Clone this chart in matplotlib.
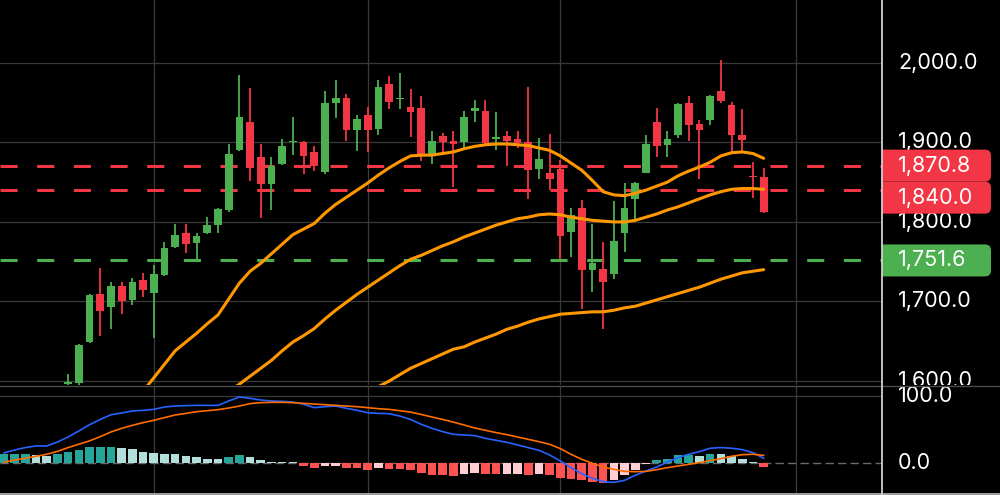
import numpy as np
import matplotlib.pyplot as plt
from matplotlib.lines import Line2D
from matplotlib.patches import FancyBboxPatch
from matplotlib.transforms import IdentityTransform

plt.rcParams['font.family'] = ['Inter', 'DejaVu Sans']

# bars are numbered 0..71; candles before bar 6 sit below the visible price range
candle_start = 6
opens = [1596, 1597, 1649, 1709, 1693, 1719, 1702, 1727, 1711, 1733, 1768, 1786, 1773, 1786, 1796, 1815,
         1890, 1925, 1881, 1848, 1873, 1900, 1900, 1888, 1863, 1950, 1956, 1915, 1935, 1917, 1973, 1954,
         1944, 1943, 1886, 1908, 1902, 1901, 1939, 1939, 1904, 1908, 1904, 1901, 1866, 1862, 1866, 1787,
         1817, 1740, 1741, 1734, 1786, 1829, 1862, 1925, 1897, 1909, 1950, 1923, 1928, 1965, 1947, 1909,
         1857, 1857]
highs = [1609, 1646, 1709, 1742, 1724, 1724, 1730, 1736, 1746, 1775, 1798, 1797, 1786, 1806, 1817, 1898,
         1985, 1968, 1898, 1882, 1904, 1932, 1902, 1895, 1965, 1979, 1961, 1934, 1944, 1979, 1983, 1987,
         1967, 1958, 1914, 1912, 1914, 1939, 1953, 1953, 1938, 1914, 1914, 1970, 1905, 1911, 1878, 1817,
         1827, 1798, 1775, 1826, 1849, 1850, 1909, 1943, 1914, 1949, 1958, 1928, 1960, 2003, 1951, 1942,
         1875, 1868]
lows = [1594, 1595, 1648, 1657, 1665, 1684, 1696, 1705, 1654, 1732, 1767, 1761, 1752, 1785, 1786, 1812,
        1889, 1852, 1805, 1815, 1871, 1884, 1860, 1864, 1860, 1931, 1902, 1889, 1888, 1909, 1942, 1942,
        1907, 1877, 1873, 1888, 1844, 1891, 1925, 1898, 1891, 1870, 1893, 1829, 1854, 1840, 1754, 1756,
        1691, 1712, 1665, 1728, 1762, 1802, 1861, 1882, 1882, 1905, 1902, 1854, 1922, 1950, 1888, 1888,
        1830, 1811]
closes = [1599, 1645, 1708, 1688, 1719, 1700, 1724, 1714, 1735, 1767, 1784, 1772, 1782, 1796, 1816, 1886,
          1932, 1868, 1848, 1870, 1896, 1902, 1883, 1870, 1950, 1956, 1916, 1930, 1915, 1969, 1951, 1956,
          1938, 1886, 1902, 1901, 1898, 1932, 1943, 1899, 1907, 1902, 1899, 1865, 1879, 1854, 1782, 1809,
          1740, 1748, 1725, 1776, 1817, 1849, 1898, 1896, 1904, 1948, 1922, 1916, 1958, 1952, 1909, 1903,
          1856, 1813]

ma_fast_start = 13
ma_fast = [1587, 1604, 1621, 1638, 1649, 1660, 1672, 1683, 1703, 1723, 1738, 1748, 1760, 1772, 1784,
           1791, 1798, 1811, 1822, 1831, 1840, 1849, 1859, 1868, 1876, 1883, 1884, 1884, 1886, 1888,
           1892, 1895, 1897, 1898, 1898, 1897, 1896, 1893, 1890, 1883, 1874, 1865, 1852, 1838, 1834,
           1833, 1836, 1840, 1845, 1850, 1858, 1864, 1869, 1875, 1883, 1887, 1888, 1886, 1880]
ma_mid_start = 21
ma_mid = [1587, 1596, 1606, 1616, 1626, 1638, 1649, 1657, 1666, 1678, 1689, 1699, 1709, 1718, 1727,
          1736, 1745, 1753, 1758, 1764, 1770, 1775, 1781, 1786, 1791, 1796, 1800, 1804, 1806, 1809,
          1810, 1809, 1806, 1804, 1802, 1801, 1800, 1800, 1802, 1806, 1810, 1815, 1819, 1824, 1829,
          1834, 1838, 1841, 1842, 1842, 1841]
ma_slow_start = 34
ma_slow = [1585, 1593, 1600, 1608, 1616, 1622, 1628, 1634, 1640, 1643, 1649, 1654, 1659, 1665, 1669,
           1674, 1678, 1681, 1684, 1685, 1686, 1687, 1687, 1689, 1692, 1694, 1698, 1702, 1706, 1710,
           1714, 1718, 1723, 1728, 1732, 1736, 1738, 1740]

level_values = [1870.8, 1840.0, 1751.6]
level_up = [False, False, True]

price_ticks = [1600, 1700, 1800, 1900, 2000]
month_starts = [14, 34, 52, 74]

macd_hist = [13.4, 13.6, 13.8, 12.4, 11, 13.4, 16, 19.4, 23.5, 24, 24.4, 22, 20.4, 17, 14.4, 13.4,
             13, 11, 8.5, 6.5, 6, 8.5, 12, 8.5, 5, 1.5, 1.2, 1.0, -5, -8, -5, -4, -7, -7.5, -11, -7.5,
             -9, -9.5, -11, -15, -17.5, -18.5, -19, -16, -15.5, -16.5, -17, -16.5, -16, -17.5, -17,
             -17.5, -22.5, -24, -26, -28, -29.5, -25, -17.5, -10, -0.8, 4, 6.5, 11.5, 12.5, 11, 14,
             13.5, 10, 6.5, 1, -6.5]
macd_line = [15, 19.4, 23, 25.4, 25.4, 31.3, 38.8, 47.8, 57.2, 65, 72, 74.6, 77.6, 78.6, 80, 83.6, 85,
             85.6, 86, 86, 86, 92.5, 98.5, 96.5, 94, 92.5, 92, 91, 87.6, 82.6, 84, 85, 81.6, 78.6, 75,
             74, 73.6, 70, 65, 57.7, 51.7, 46.8, 42.8, 41.8, 40.8, 36.8, 33.8, 30.8, 26.9, 22.9, 18.9,
             11.9, 3, -7, -16, -22.9, -27.9, -28.9, -25.9, -18.4, -12, -6, 1.5, 8, 13, 17, 22, 23, 22,
             20, 15.4, 7]
signal_line = [1, 4.5, 7, 10, 13, 17.4, 23, 28, 33, 39.3, 46.3, 51.7, 56.2, 60.2, 63.7, 67.7, 71.6, 74,
               76.6, 78, 79.6, 82, 85, 88.6, 90, 90.5, 90.5, 90, 89, 88, 87, 86, 85, 84, 82.6, 81, 80,
               78, 76, 72.4, 68.6, 65, 61, 56.7, 52.2, 48.8, 45.3, 42.3, 38.8, 35.3, 31.8, 27.9, 21.4,
               12.9, 5.5, -0.5, -6, -9.5, -12.5, -13, -12.5, -10, -7, -4.5, -2, 0.5, 3.5, 6.5, 10, 12.4,
               13, 11.4]
macd_ticks = [0, 100]

GREEN = '#4CAF50'
RED = '#F23645'
ORANGE = '#FF9800'
GRID = '#3a3a3a'
FS = 15.5

fig = plt.figure(figsize=(10, 4.95), dpi=100, facecolor='black')
H = 495.0
main_box = [0, 1 - 385 / H, 0.882, 385 / H]
macd_box = [0, 1 - 493 / H, 0.882, 107 / H]
ax = fig.add_axes(main_box)
axs = fig.add_axes([0.882, main_box[1], 0.118, main_box[3]])
axm = fig.add_axes(macd_box)
axms = fig.add_axes([0.882, macd_box[1], 0.118, macd_box[3]])

for a in (ax, axs, axm, axms):
    a.set_facecolor('black')
    a.set_xticks([])
    a.set_yticks([])
    for s in a.spines.values():
        s.set_visible(False)

xlim = (-0.37, 82.06)
ax.set_xlim(*xlim)
axm.set_xlim(*xlim)
ax.set_ylim(1595, 2079)
axs.set_ylim(1595, 2079)
axs.set_xlim(0, 1)
axm.set_ylim(-44.8, 114.9)
axms.set_ylim(-44.8, 114.9)
axms.set_xlim(0, 1)

# grid
for p in price_ticks:
    ax.axhline(p, color=GRID, lw=0.9, zorder=0)
for m in month_starts:
    ax.axvline(m, color=GRID, lw=0.9, zorder=0)
    axm.axvline(m, color=GRID, lw=0.9, zorder=0)
axm.axhline(100, color=GRID, lw=0.9, zorder=0)
axm.axhline(0, color='#6a6a6a', lw=1, ls=(0, (6, 3)), zorder=1)

# candles
x = np.arange(candle_start, candle_start + len(opens))
o = np.array(opens)
c = np.array(closes)
cols = [GREEN if cc >= oo else RED for oo, cc in zip(o, c)]
ax.vlines(x, lows, highs, colors=cols, lw=1.3, zorder=3)
ax.bar(x, np.maximum(np.abs(c - o), 1.5), bottom=np.minimum(o, c), width=0.72,
       color=cols, lw=0, zorder=3)

# moving averages
for start, vals in [(ma_fast_start, ma_fast), (ma_mid_start, ma_mid), (ma_slow_start, ma_slow)]:
    ax.plot(np.arange(start, start + len(vals)), vals, color=ORANGE, lw=2.2, zorder=4,
            solid_capstyle='round')

# price levels
for v, up in zip(level_values, level_up):
    ax.axhline(v, color=GREEN if up else RED, lw=2.2, ls=(0, (5.6, 6.4)), zorder=2)

# right price scale
lab_x = 16 / 118
for p in price_ticks:
    axs.text(lab_x, p, f'{p:,.1f}', color='white', fontsize=FS, va='center', ha='left',
             clip_on=True, zorder=2)

badge_h = 32 / 0.795
prev = None
for v, up in sorted(zip(level_values, level_up), reverse=True):
    cy = v if prev is None else min(v, prev - badge_h)
    prev = cy
    py = axs.transData.transform((0, cy))[1]
    patch = FancyBboxPatch((870, py - 16), 121, 32, boxstyle='round,pad=0,rounding_size=6',
                           transform=IdentityTransform(), fc=GREEN if up else RED, ec='none', zorder=5)
    axs.add_patch(patch)
    axs.text(lab_x, cy, f'{v:,.1f}', color='white', fontsize=FS, va='center', ha='left', zorder=6)

# MACD panel
bx = np.arange(len(macd_hist))
hcols = []
for i, h in enumerate(macd_hist):
    prev_h = macd_hist[i - 1] if i > 0 else h - 1
    if h >= 0:
        hcols.append('#26A69A' if h > prev_h else '#B2DFDB')
    else:
        hcols.append('#FFCDD2' if h > prev_h else '#FF5252')
axm.bar(bx, macd_hist, width=0.8, color=hcols, lw=0, zorder=2)
axm.plot(bx, macd_line, color='#2962FF', lw=1.2, zorder=3)
axm.plot(bx, signal_line, color='#FF6D00', lw=1.2, zorder=3)
for t in macd_ticks:
    axms.text(lab_x, t, f'{t:,.1f}', color='white', fontsize=FS, va='center', ha='left',
              clip_on=True)

# frame lines
fig.add_artist(Line2D([0, 1], [1 - 386 / H] * 2, color='#4a4a4a', lw=1, transform=fig.transFigure))
fig.add_artist(Line2D([0, 1], [1 - 493.5 / H] * 2, color='#bbbbbb', lw=1.2, transform=fig.transFigure))
fig.add_artist(Line2D([0.882, 0.882], [1 - 493.5 / H, 1], color='#d0d0d0', lw=1.3,
                      transform=fig.transFigure))

fig.savefig('out.png', dpi=100, facecolor='black')
